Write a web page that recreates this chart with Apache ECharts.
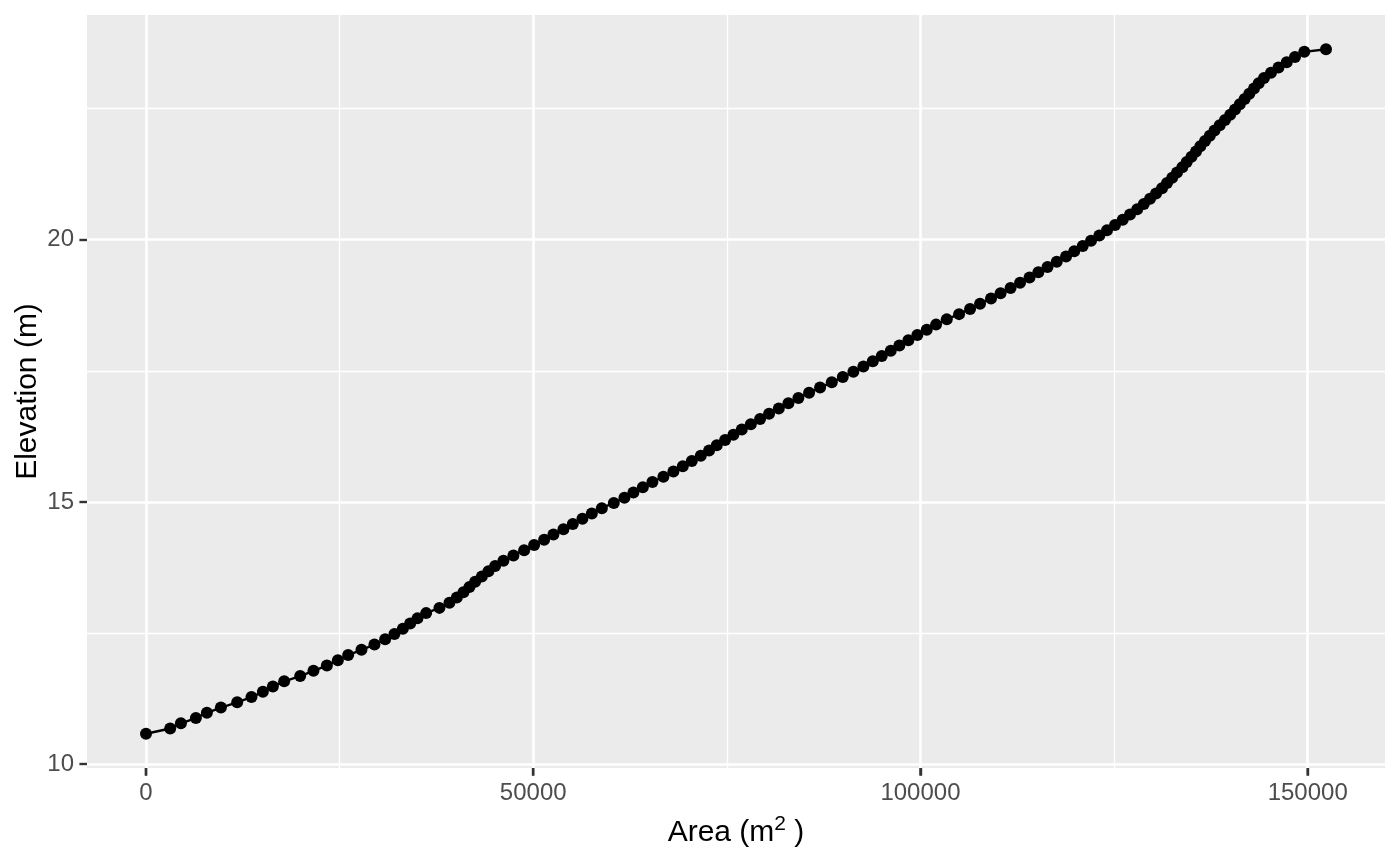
<!DOCTYPE html>
<html>
<head>
<meta charset="utf-8">
<script src="https://cdn.jsdelivr.net/npm/echarts@6/dist/echarts.min.js"></script>
<style>
html,body{margin:0;padding:0;background:#fff;}
#c{width:1400px;height:866px;}
</style>
</head>
<body>
<div id="c"></div>
<script>
// Data
const areaM2 = [
0,3124,4506,6442,7862,9670,11774,13620,15092,16383,
17842,19907,21624,23354,24774,26104,27821,29499,30881,32081,
33166,34108,35051,36174,37891,39182,40137,40989,41764,42500,
43365,44217,45082,46153,47444,48826,50117,51408,52608,53899,
55113,56352,57566,58857,60406,61774,62936,64150,65389,66809,
68100,69314,70476,71638,72709,73703,74775,75846,76931,78093,
79293,80455,81707,82947,84238,85619,87039,88550,89970,91338,
92629,93843,95005,96167,97277,98439,99601,100814,102015,103396,
104984,106404,107695,109115,110342,111633,112859,114086,115222,116409,
117597,118798,119856,120954,122025,123097,124091,125124,126118,127060,
127990,128842,129642,130417,131191,131837,132508,133128,133812,134380,
134999,135581,136136,136743,137362,137969,138640,139324,139996,140616,
141235,141855,142462,143069,143675,144360,145263,146231,147290,148361,
149562,152364
];
const elevationM = [
10.58,10.68,10.78,10.88,10.98,11.08,11.18,11.28,11.38,11.48,
11.58,11.68,11.78,11.88,11.98,12.08,12.18,12.28,12.38,12.48,
12.58,12.68,12.78,12.88,12.98,13.08,13.18,13.28,13.38,13.48,
13.58,13.68,13.78,13.88,13.98,14.08,14.18,14.28,14.38,14.48,
14.58,14.68,14.78,14.88,14.98,15.08,15.18,15.28,15.38,15.48,
15.58,15.68,15.78,15.88,15.98,16.08,16.18,16.28,16.38,16.48,
16.58,16.68,16.78,16.88,16.98,17.08,17.18,17.28,17.38,17.48,
17.58,17.68,17.78,17.88,17.98,18.08,18.18,18.28,18.38,18.48,
18.58,18.68,18.78,18.88,18.98,19.08,19.18,19.28,19.38,19.48,
19.58,19.68,19.78,19.88,19.98,20.08,20.18,20.28,20.38,20.48,
20.58,20.68,20.78,20.88,20.98,21.08,21.18,21.28,21.38,21.48,
21.58,21.68,21.78,21.88,21.98,22.08,22.18,22.28,22.38,22.48,
22.58,22.68,22.78,22.88,22.98,23.08,23.18,23.28,23.38,23.48,
23.58,23.63
];
const xMajorTicks = [0, 50000, 100000, 150000];
const xMinorTicks = [25000, 75000, 125000];
const yMajorTicks = [10, 15, 20];
const yMinorTicks = [12.5, 17.5, 22.5];
const xTitle = 'Area (m{sup|2} )';
const yTitle = 'Elevation (m)';

// ggplot-like 5% expansion of the data range
function expand(arr){
  const lo = Math.min.apply(null, arr), hi = Math.max.apply(null, arr);
  const d = (hi - lo) * 0.05;
  return [lo - d, hi + d];
}
const xr = expand(areaM2), yr = expand(elevationM);
const points = areaM2.map((a, i) => [a, elevationM[i]]);
const xTickMarks = xMajorTicks.map(v => [v, yr[0]]);

const FONT = '"Liberation Sans", Arial, Helvetica, sans-serif';
const TICK_LEN = 7.6, TICK_W = 2.4;
const gridLines = [];
xMajorTicks.forEach(v => gridLines.push({xAxis: v, lineStyle: {width: 2.6}}));
xMinorTicks.forEach(v => gridLines.push({xAxis: v, lineStyle: {width: 1.3}}));
yMajorTicks.forEach(v => gridLines.push({yAxis: v, lineStyle: {width: 2.6}}));
yMinorTicks.forEach(v => gridLines.push({yAxis: v, lineStyle: {width: 1.3}}));

const chart = echarts.init(document.getElementById('c'), null, {renderer: 'canvas'});
chart.setOption({
  animation: false,
  backgroundColor: '#ffffff',
  textStyle: {fontFamily: FONT},
  grid: {
    left: 87, right: 15, top: 15, bottom: 98,
    show: true, backgroundColor: '#EBEBEB', borderWidth: 0,
    containLabel: false, outerBoundsMode: 'none'
  },
  xAxis: {
    type: 'value', position: 'bottom', min: xr[0], max: xr[1], z: 5,
    axisLine: {show: false, onZero: false},
    splitLine: {show: false},
    axisTick: {show: true, inside: false, length: TICK_LEN, customValues: xMajorTicks, lineStyle: {color: '#333333', width: TICK_W}},
    axisLabel: {show: true, customValues: xMajorTicks, margin: 13, color: '#4D4D4D', fontSize: 24, fontFamily: FONT,
      formatter: v => String(v)},
    name: xTitle, nameLocation: 'middle', nameGap: 46, nameMoveOverlap: false,
    nameTextStyle: {color: '#000000', fontSize: 30, fontFamily: FONT,
      rich: {sup: {fontSize: 21, color: '#000000', fontFamily: FONT, padding: [0, 0, 16, 0]}}}
  },
  yAxis: {
    type: 'value', position: 'left', min: yr[0], max: yr[1], z: 5,
    axisLine: {show: false, onZero: false},
    splitLine: {show: false},
    axisTick: {show: true, inside: false, length: TICK_LEN, customValues: yMajorTicks, lineStyle: {color: '#333333', width: TICK_W}},
    axisLabel: {show: true, customValues: yMajorTicks, margin: 13, color: '#4D4D4D', fontSize: 24, fontFamily: FONT,
      formatter: v => String(v)},
    name: yTitle, nameLocation: 'middle', nameGap: 44, nameRotate: 90, nameMoveOverlap: false,
    nameTextStyle: {color: '#000000', fontSize: 30, fontFamily: FONT}
  },
  series: [
    {
      type: 'line', data: [], z: 0, zlevel: 0, silent: true,
      markLine: {silent: true, symbol: 'none', label: {show: false}, animation: false, z: 0, zlevel: 0,
        lineStyle: {color: '#FFFFFF', type: 'solid'}, data: gridLines}
    },
    {
      // x-axis tick marks below the panel, positioned through the axis scales
      type: 'custom', data: xTickMarks, z: 20, zlevel: 2, silent: true, clip: false,
      renderItem: function (params, api) {
        const p = api.coord([api.value(0), api.value(1)]);
        return {
          type: 'line',
          shape: {x1: p[0], y1: p[1], x2: p[0], y2: p[1] + TICK_LEN},
          style: {stroke: '#333333', lineWidth: TICK_W}
        };
      }
    },
    {
      type: 'line', data: points, z: 10, zlevel: 1,
      symbol: 'circle', symbolSize: 12, showAllSymbol: true,
      itemStyle: {color: '#000000'},
      lineStyle: {color: '#000000', width: 2.4},
      emphasis: {disabled: true}
    }
  ]
});
</script>
</body>
</html>
